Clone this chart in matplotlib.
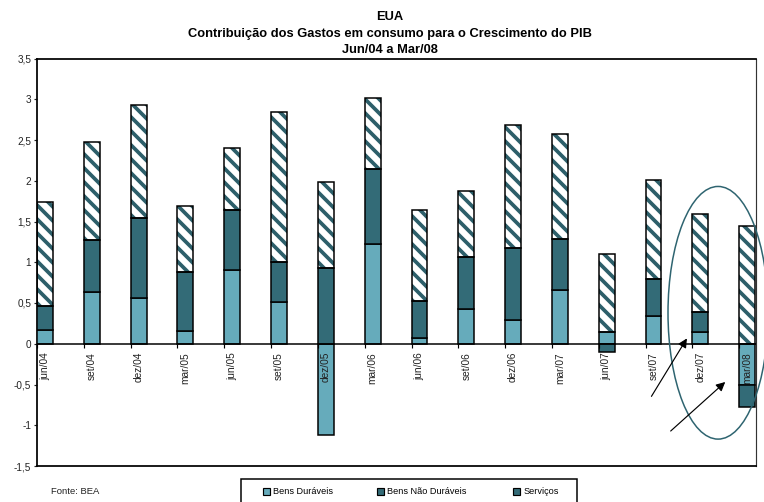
import numpy as np
import matplotlib
matplotlib.use("Agg")
import matplotlib.pyplot as plt
from matplotlib.patches import Ellipse, Patch, Rectangle
from matplotlib.ticker import FuncFormatter

# quarters Jun/04 to Mar/08
quarters = ["jun/04", "set/04", "dez/04", "mar/05", "jun/05", "set/05", "dez/05", "mar/06",
            "jun/06", "set/06", "dez/06", "mar/07", "jun/07", "set/07", "dez/07", "mar/08"]

#contribution to GDP growth (p.p.)
duraveis = [0.17, 0.64, 0.56, 0.16, 0.90, 0.51, -1.12, 1.22,
            0.07, 0.43, 0.29, 0.66, 0.14, 0.34, 0.14, -0.50]
nao_duraveis = [0.29, 0.63, 0.98, 0.72, 0.74, 0.49, 0.93, 0.93,
                0.46, 0.64, 0.88, 0.63, -0.10, 0.46, 0.25, -0.27]
servicos = [1.28, 1.21, 1.39, 0.81, 0.76, 1.84, 1.06, 0.86,
            1.11, 0.81, 1.52, 1.28, 0.96, 1.21, 1.20, 1.44]

series_names = ["Bens Duráveis", "Bens Não Duráveis", "Serviços"]

c_light = "#66abbb"
c_dark = "#336b77"
c_hatch = "#2d5f6a"

plt.rcParams["font.family"] = ["Liberation Sans", "DejaVu Sans"]
plt.rcParams["hatch.linewidth"] = 3.2

DPI = 84
fig = plt.figure(figsize=(764 / DPI, 502 / DPI), dpi=DPI)
ax = fig.add_axes([37 / 764, 36 / 502, 719 / 764, 407.5 / 502])

x = np.arange(len(quarters))
width = 0.34
pos_base = np.zeros(len(quarters))
neg_base = np.zeros(len(quarters))

for vals, color in [(duraveis, c_light), (nao_duraveis, c_dark), (servicos, None)]:
    vals = np.array(vals)
    bottom = np.where(vals >= 0, pos_base, neg_base)
    if color is None:
        ax.bar(x, vals, width, bottom=bottom, color="white", edgecolor=c_hatch,
               linewidth=0, hatch="\\\\", zorder=2)
        ax.bar(x, vals, width, bottom=bottom, fill=False, edgecolor="black",
               linewidth=1.3, zorder=3)
    else:
        ax.bar(x, vals, width, bottom=bottom, color=color, edgecolor="black",
               linewidth=1.3, zorder=3)
    pos_base = pos_base + np.where(vals >= 0, vals, 0)
    neg_base = neg_base + np.where(vals < 0, vals, 0)

ax.axhline(0, color="black", linewidth=1.3, zorder=4)
ax.vlines(x - width / 2, -0.05, 0, color="black", linewidth=1.0, zorder=4)

ax.set_xlim(-0.171, 15.19)
ax.set_ylim(-1.5, 3.5)
ax.set_yticks(np.arange(-1.5, 3.51, 0.5))
ax.yaxis.set_major_formatter(FuncFormatter(lambda v, p: f"{v:g}".replace(".", ",")))
ax.tick_params(axis="y", direction="out", length=3, width=1, labelsize=8.6, colors="#222222", pad=2)
ax.set_xticks([])

for sp in ["left", "top", "bottom"]:
    ax.spines[sp].set_linewidth(1.5)
ax.spines["right"].set_linewidth(1.0)
ax.spines["right"].set_color("#333333")

for i, lab in enumerate(quarters):
    ax.annotate(lab, xy=(i, 0), xytext=(0, -7), textcoords="offset points",
                rotation=90, ha="center", va="top", fontsize=8.7, color="#222222", zorder=5)

#highlight last quarters
ax.add_patch(Ellipse((14.38, 0.38), 2.14, 3.10, fill=False, edgecolor="#2e6470",
                     linewidth=1.3, clip_on=False, zorder=6))
ax.annotate("", xy=(13.74, 0.09), xytext=(12.93, -0.67),
            arrowprops=dict(arrowstyle="-|>", color="black", lw=1.0, mutation_scale=16),
            zorder=6, annotation_clip=False)
ax.annotate("", xy=(14.57, -0.45), xytext=(13.33, -1.09),
            arrowprops=dict(arrowstyle="-|>", color="black", lw=1.0, mutation_scale=16),
            zorder=6, annotation_clip=False)

#title
title_lines = ["EUA", "Contribuição dos Gastos em consumo para o Crescimento do PIB", "Jun/04 a Mar/08"]
for line, ypix in zip(title_lines, [17, 34, 50]):
    fig.text(390 / 764, 1 - ypix / 502, line, ha="center", va="center", fontsize=11,
             fontweight="bold")

fig.text(51 / 764, 1 - 492 / 502, "Fonte: BEA", ha="left", va="center", fontsize=8.1, color="#222222")

#legend box
fig.patches.append(Rectangle((241 / 764, -0.05), 336 / 764, 0.05 + (502 - 479) / 502,
                             transform=fig.transFigure, fill=False, edgecolor="black",
                             linewidth=1.3))
handles = [Patch(facecolor=c_light, edgecolor="black", linewidth=1.0),
           Patch(facecolor=c_dark, edgecolor="black", linewidth=1.0),
           Patch(facecolor=c_dark, edgecolor="black", linewidth=1.0)]
for h, name, xpix in zip(handles, series_names, [263, 377, 513]):
    fig.legend([h], [name], loc="center left", bbox_to_anchor=(xpix / 764, 1 - 492 / 502),
               frameon=False, fontsize=7.8, handlelength=0.75, handleheight=0.75,
               handletextpad=0.4, borderpad=0, borderaxespad=0)

fig.savefig("out.png", dpi=DPI)
